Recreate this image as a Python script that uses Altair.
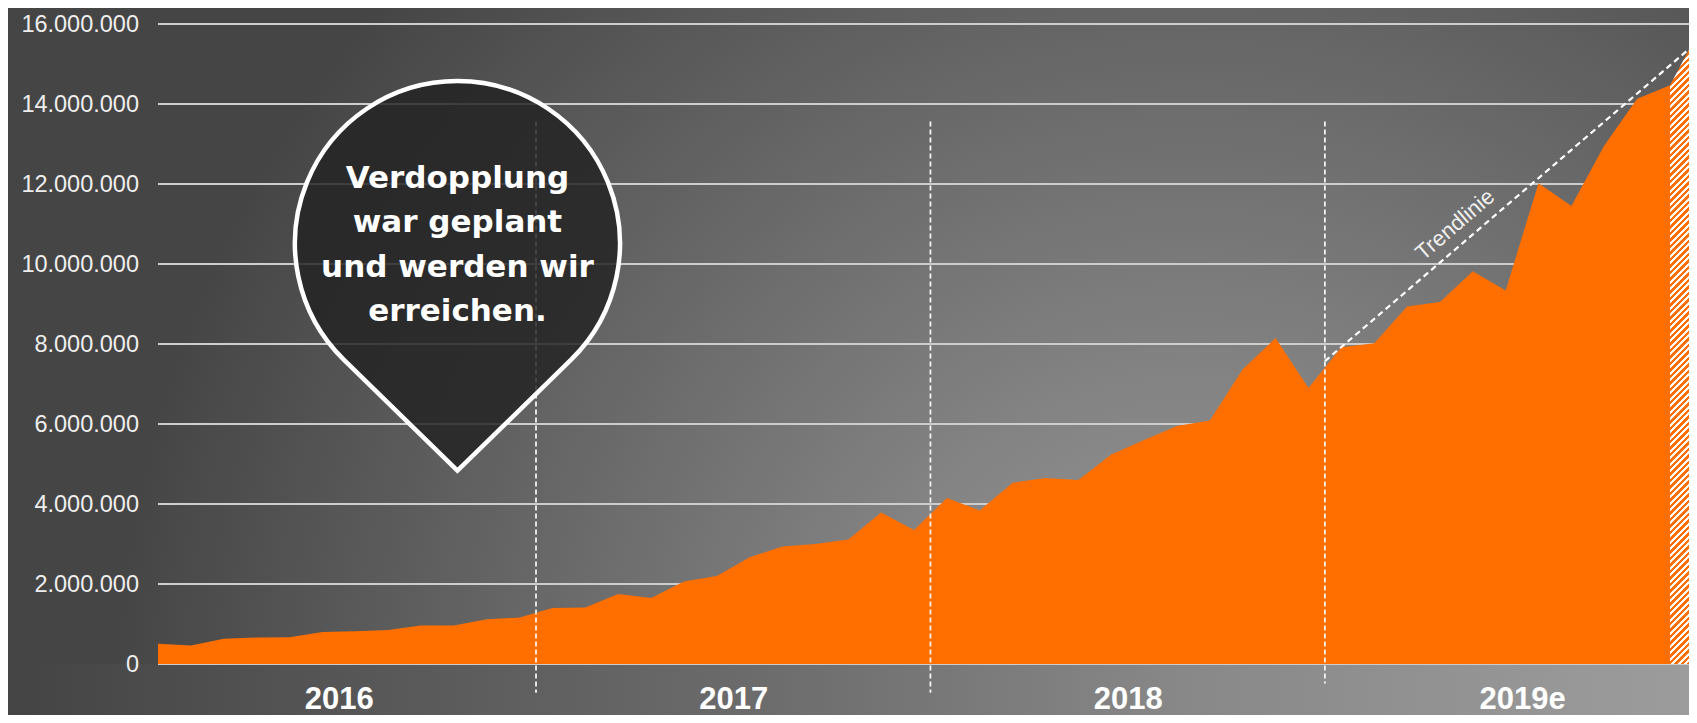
import altair as alt
import pandas as pd

# ---------------- data ----------------
month_index = list(range(48))  # Jan 2016 .. Dec 2019
users_m = [0.505, 0.46, 0.63, 0.66, 0.67, 0.80, 0.82, 0.85, 0.96, 0.96, 1.12, 1.16,
           1.40, 1.41, 1.75, 1.65, 2.06, 2.20, 2.67, 2.94, 3.00, 3.11, 3.79, 3.35,
           4.15, 3.84, 4.53, 4.65, 4.60, 5.24, 5.60, 5.95, 6.09, 7.37, 8.15, 6.90,
           7.92, 8.02, 8.94, 9.05, 9.82, 9.34, 12.02, 11.45, 12.96, 14.13, 14.47, 16.00]
forecast_from = 46

years = ["2016", "2017", "2018", "2019e"]
year_centers = [5.5, 17.5, 29.5, 41.5]
separator_x = [11.5, 23.5, 35.5]
separator_top = [13.56e6, 13.56e6, 13.56e6]
separator_bottom = [-0.72e6, -0.72e6, -0.49e6]
y_ticks = [0, 2e6, 4e6, 6e6, 8e6, 10e6, 12e6, 14e6, 16e6]

trend_x = [35.5, 47]
trend_y = [7.57e6, 15.67e6]
trend_label = "Trendlinie"
trend_label_x = [39.6]
trend_label_y = [10.85e6]

pin_x = [9.11]
pin_y = [10.51e6]
pin_lines = ["Verdopplung", "war geplant", "und werden wir", "erreichen."]
pin_text_y = [11.91e6]

# ---------------- layout ----------------
W, H = 1531, 640
PAD = {"left": 150, "top": 16, "right": 0, "bottom": 51}
STEP = 32.87
XMAX = W / STEP
ORANGE = "#ff6f00"
FONT = "Liberation Sans"
CW = PAD["left"] + W + PAD["right"]
CH = PAD["top"] + H + PAD["bottom"]

xscale = alt.Scale(domain=[0, XMAX], nice=False, zero=False)
yscale = alt.Scale(domain=[0, 16e6], nice=False)

solid = pd.DataFrame({"i": month_index[:forecast_from + 1],
                      "v": [u * 1e6 for u in users_m[:forecast_from + 1]]})
hatch = pd.DataFrame({"i": month_index[forecast_from:],
                      "v": [u * 1e6 for u in users_m[forecast_from:]]})
grid_df = pd.DataFrame({"v": y_ticks})
sep_df = pd.DataFrame({"i": separator_x, "v": separator_top, "bottom": separator_bottom})
trend_df = pd.DataFrame({"i": trend_x, "v": trend_y})
tl_df = pd.DataFrame({"i": trend_label_x, "v": trend_label_y, "t": [trend_label]})
pin_df = pd.DataFrame({"i": pin_x, "v": pin_y})
pintext_df = pd.DataFrame({"i": pin_x, "v": pin_text_y, "t": ["\n".join(pin_lines)]})
one = pd.DataFrame({"a": [0]})

year_expr = "[" + ",".join("'%s'" % y for y in years) + "][round((datum.value - %s) / 12)]" % year_centers[0]

x_axis = alt.Axis(values=year_centers, labelExpr=year_expr, labelFont=FONT,
                  labelFontWeight="bold", labelFontSize=31, labelColor="#ffffff",
                  labelBaseline="alphabetic", labelPadding=44, ticks=False,
                  domain=False, grid=False, title=None, zindex=2, labelFlush=False,
                  labelOverlap=False)
y_axis = alt.Axis(values=y_ticks,
                  labelExpr="replace(replace(format(datum.value, ','), ',', '.'), ',', '.')",
                  labelFont=FONT, labelFontSize=23.5, labelColor="#eeeeee",
                  labelPadding=19.5, ticks=False, domain=False, grid=False,
                  title=None, zindex=2)

X = alt.X("i:Q", scale=xscale, axis=x_axis)
Y = alt.Y("v:Q", scale=yscale, axis=y_axis)

# background gradients (radial pattern is laid out in a CW x CW square centred on the canvas)
cx = (1190 - 8) / CW
cy = (704 + (CW - CH) / 2) / CW
radial = {"gradient": "radial", "x1": cx, "y1": cy, "r1": 0,
          "x2": cx, "y2": cy, "r2": 1080 / CW,
          "stops": [{"offset": 0, "color": "#9a9a9a"},
                    {"offset": 0.3, "color": "#848484"},
                    {"offset": 1, "color": "#454545"}]}
band = {"gradient": "linear", "x1": 0, "y1": 0, "x2": 1, "y2": 0,
        "stops": [{"offset": 0, "color": "#444444"},
                  {"offset": 0.45, "color": "#6c6c6c"},
                  {"offset": 0.7, "color": "#888888"},
                  {"offset": 1, "color": "#9c9c9c"}]}

# hatch stripes as a hard-stop linear gradient, isolines at 45 degrees
bw = STEP
bh = float(H)
s = (bw + bh) / (bw * bw + bh * bh)
period = 6.5
white_frac = 0.45
total = bw + bh
stops = []
k = 0
while k * period < total:
    a = k * period / total
    b = min(1.0, (k * period + period * (1 - white_frac)) / total)
    c = min(1.0, (k + 1) * period / total)
    stops += [{"offset": a, "color": ORANGE}, {"offset": b, "color": ORANGE},
              {"offset": b, "color": "#ffffff"}, {"offset": c, "color": "#ffffff"}]
    k += 1
stripes = {"gradient": "linear", "x1": 0, "y1": 0, "x2": bw * s, "y2": bh * s, "stops": stops}

bg = alt.Chart(one).mark_rect(fill=radial).encode(
    x=alt.value(-PAD["left"]), x2=alt.value(W + PAD["right"]),
    y=alt.value(-PAD["top"]), y2=alt.value(H + PAD["bottom"]))
bandl = alt.Chart(one).mark_rect(fill=band).encode(
    x=alt.value(-PAD["left"]), x2=alt.value(W + PAD["right"]),
    y=alt.value(H), y2=alt.value(H + PAD["bottom"]))

grid = alt.Chart(grid_df).mark_rule(color="#cdcdcd", strokeWidth=2).encode(
    y=Y, x=alt.value(0), x2=alt.value(W))

area = alt.Chart(solid).mark_area(color=ORANGE, clip=True).encode(
    x=X, y=Y, y2=alt.datum(0))

hatch_l = alt.Chart(hatch).mark_area(fill=stripes, clip=True).encode(
    x=X, y=Y, y2=alt.datum(0))

seps = alt.Chart(sep_df).mark_rule(color="#f2f2f2", strokeWidth=1.8, strokeDash=[5, 3]).encode(
    x=X, y=Y, y2="bottom:Q")

trend = alt.Chart(trend_df).mark_line(color="#ffffff", strokeWidth=2.2, strokeDash=[6, 4], clip=True).encode(
    x=X, y=Y)

trend_txt = alt.Chart(tl_df).mark_text(angle=319.4, align="center", baseline="alphabetic",
                                       fontSize=22, font=FONT, color="#f0f0f0").encode(
    x=X, y=Y, text="t:N")

# map-pin shape: circle (r = 0.7159) with tangents meeting at the tip (0, 1)
pin_path = "M0,1L-0.4998,0.5125A0.7159,0.7159,0,1,1,0.4998,0.5125Z"
pin = alt.Chart(pin_df).mark_point(shape=pin_path, size=454 * 454, filled=True,
                                   fill="#222222", fillOpacity=0.84, stroke="#ffffff",
                                   strokeWidth=4.5, strokeOpacity=1, opacity=1).encode(
    x=X, y=Y)

pin_txt = alt.Chart(pintext_df).mark_text(align="center", baseline="alphabetic", lineBreak="\n",
                                          lineHeight=44.5, fontSize=31, font="DejaVu Sans",
                                          fontWeight="bold", color="#ffffff").encode(
    x=X, y=Y, text="t:N")

chart = alt.layer(bg, bandl, grid, area, hatch_l, seps, trend, trend_txt, pin, pin_txt).properties(
    width=W, height=H, padding=PAD,
    autosize=alt.AutoSizeParams(type="none"),
    background="#464646",
).configure_view(stroke=None)

chart.save("out.html", embed_options={"renderer": "svg", "actions": False})
